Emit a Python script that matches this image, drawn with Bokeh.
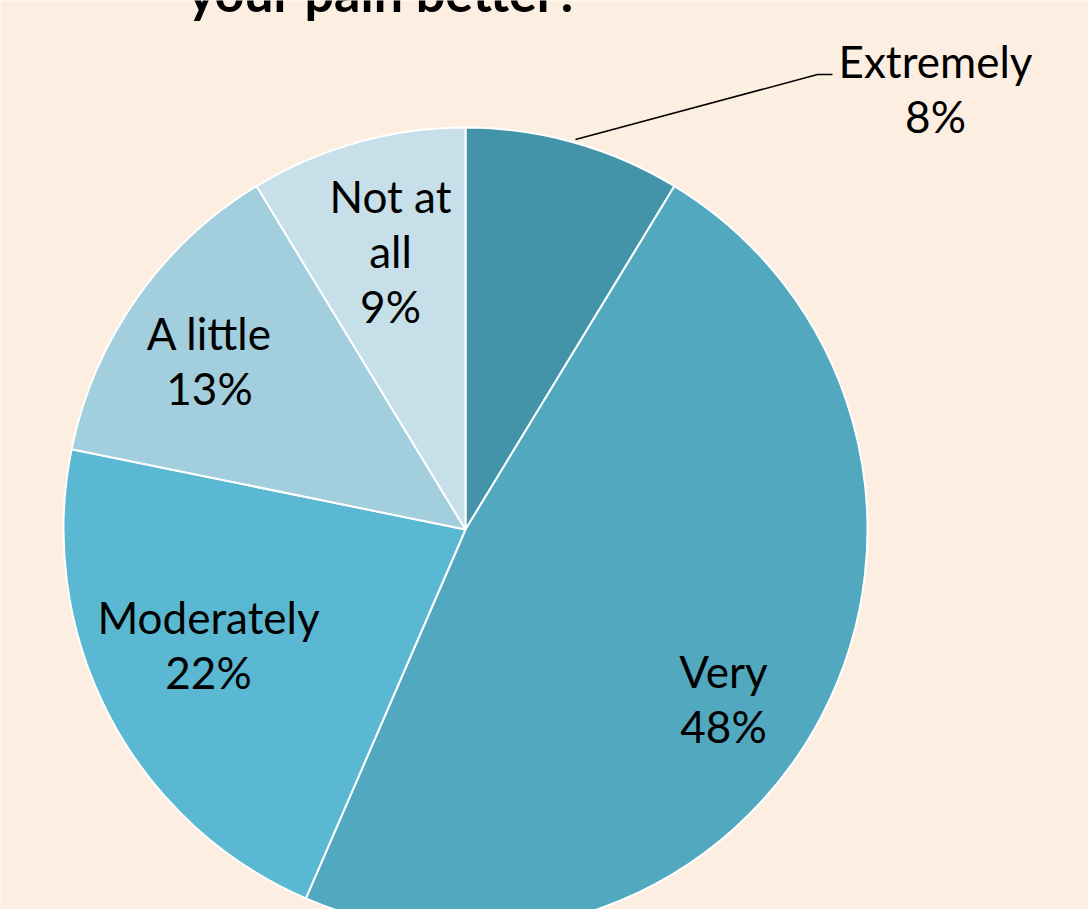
import math
from bokeh.plotting import figure
from bokeh.models import Range1d
from bokeh.core.properties import value
from bokeh.embed import file_html
from bokeh.resources import INLINE

# ---- data ----
categories = ["Extremely", "Very", "Moderately", "A little", "Not at all"]
shares = [8.7, 47.8, 21.7, 13.1, 8.7]          # slice sizes
pct_labels = ["8%", "48%", "22%", "13%", "9%"]  # printed percentages
colors = ["#4394A8", "#51A8BF", "#5BB8D2", "#A2CEDD", "#C6DFE8"]
title_text = "your pain better?"

# ---- layout (reference pixel coordinates, y downward) ----
W, H = 1088, 909
BG = "#FDEEE2"
cx, cy, R = 465, 529, 402
label_lines = [["Extremely"], ["Very"], ["Moderately"], ["A little"], ["Not at", "all"]]
label_pos = [(935, 77), (723, 687), (208, 633), (209, 349), (390, 212)]  # center x, first baseline
line_gap = 55
FS = "44px"
FONT = "Lato"
BASE_FIX = 17      # compensates renderer's baseline placement
TITLE_FIX = 20


def Y(ry):
    return H - ry


p = figure(width=W, height=H, output_backend="svg", toolbar_location=None,
           x_range=Range1d(0, W), y_range=Range1d(0, H),
           min_border=0, outline_line_color=None,
           background_fill_color=BG, border_fill_color=BG)
p.axis.visible = False
p.grid.visible = False

total = sum(shares)
starts, ends = [], []
cum = 0.0
for s in shares:
    starts.append(math.pi / 2 - 2 * math.pi * cum / total)
    cum += s
    ends.append(math.pi / 2 - 2 * math.pi * cum / total)

p.wedge(x=[cx] * len(shares), y=[Y(cy)] * len(shares), radius=R,
        start_angle=starts, end_angle=ends, direction="clock",
        fill_color=colors, line_color="white", line_width=2)

# leader line for "Extremely"
p.line(x=[575, 817, 832], y=[Y(139), Y(74), Y(74)], line_color="black", line_width=1.5)

# labels
xs, ys, ts = [], [], []
for lines, pct, (lx, ly) in zip(label_lines, pct_labels, label_pos):
    for i, t in enumerate(lines + [pct]):
        xs.append(lx)
        ys.append(Y(ly + i * line_gap - BASE_FIX))
        ts.append(t)
p.text(x=xs, y=ys, text=ts, text_align="center", text_baseline="alphabetic",
       text_font=value(FONT), text_font_size=FS, text_color="black")

# title (only its last line is visible, cut at the top edge as in the reference)
p.text(x=[384], y=[Y(11 - TITLE_FIX)], text=[title_text], text_align="center",
       text_baseline="alphabetic", text_font=value(FONT), text_font_style="bold",
       text_font_size="52px", text_color="black")

open("out.html", "w").write(file_html(p, INLINE))
